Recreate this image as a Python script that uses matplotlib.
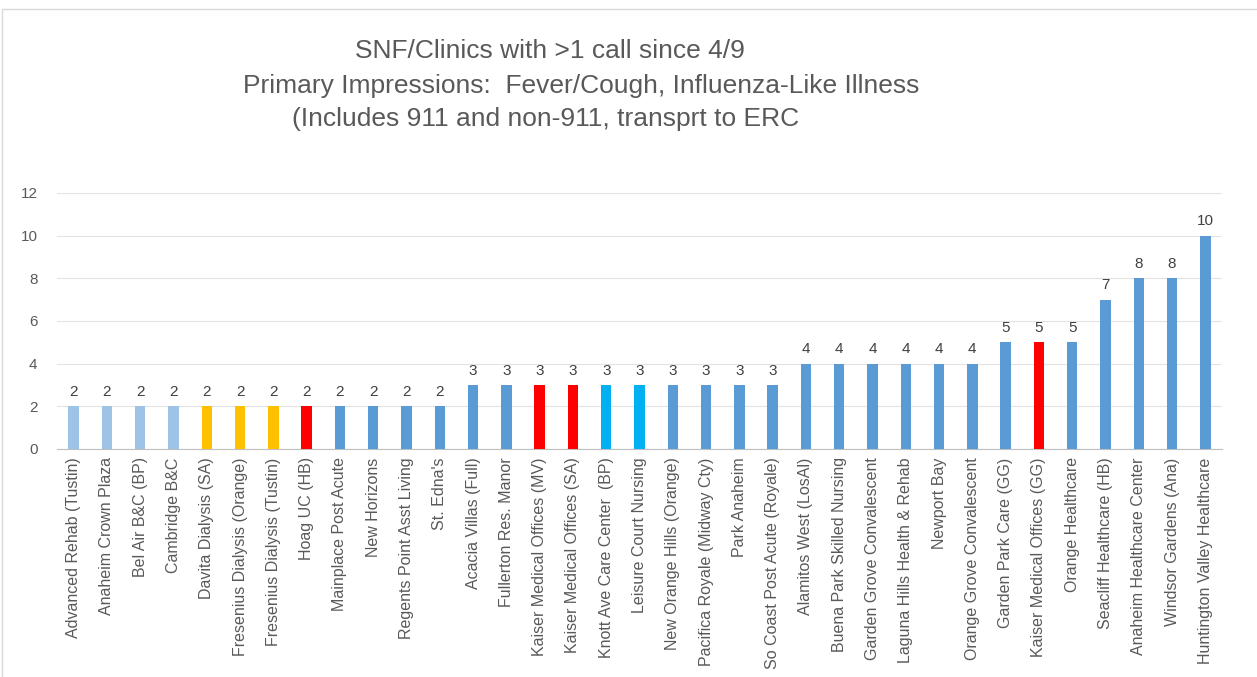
import matplotlib.pyplot as plt
from matplotlib.patches import Rectangle

facilities = [
    "Advanced Rehab (Tustin)", "Anaheim Crown Plaza", "Bel Air B&C (BP)", "Cambridge B&C",
    "Davita Dialysis (SA)", "Fresenius Dialysis (Orange)", "Fresenius Dialysis (Tustin)",
    "Hoag UC (HB)", "Mainplace Post Acute", "New Horizons", "Regents Point Asst Living",
    "St. Edna's", "Acacia Villas (Full)", "Fullerton Res. Manor", "Kaiser Medical Offices (MV)",
    "Kaiser Medical Offices (SA)", "Knott Ave Care Center  (BP)", "Leisure Court Nursing",
    "New Orange Hills (Orange)", "Pacifica Royale (Midway Cty)", "Park Anaheim",
    "So Coast Post Acute (Royale)", "Alamitos West (LosAl)", "Buena Park Skilled Nursing",
    "Garden Grove Convalescent", "Laguna Hills Health & Rehab", "Newport Bay",
    "Orange Grove Convalescent", "Garden Park Care (GG)", "Kaiser Medical Offices (GG)",
    "Orange Healthcare", "Seacliff Healthcare (HB)", "Anaheim Healthcare Center",
    "Windsor Gardens (Ana)", "Huntington Valley Healthcare",
]
calls = [2, 2, 2, 2, 2, 2, 2, 2, 2, 2, 2, 2,
         3, 3, 3, 3, 3, 3, 3, 3, 3, 3,
         4, 4, 4, 4, 4, 4,
         5, 5, 5, 7, 8, 8, 10]
groups = ["light"] * 4 + ["orange"] * 3 + ["red"] + ["blue"] * 6 + ["red"] * 2 + ["cyan"] * 2 \
    + ["blue"] * 11 + ["red"] + ["blue"] * 5

palette = {"light": "#9DC3E6", "orange": "#FFC000", "red": "#FF0000",
           "blue": "#5B9BD5", "cyan": "#00B0F0"}

title_lines = ["SNF/Clinics with >1 call since 4/9",
               "Primary Impressions:  Fever/Cough, Influenza-Like Illness",
               "(Includes 911 and non-911, transprt to ERC"]

plt.rcParams['font.family'] = ['Liberation Sans Narrow', 'Liberation Sans', 'DejaVu Sans']

fig = plt.figure(figsize=(12.57, 6.77), dpi=100)
W, H = 1257, 677
ax = fig.add_axes([57 / W, 1 - 449 / H, (1222 - 57) / W, (449 - 193) / H])

x = list(range(len(facilities)))
bars = ax.bar(x, calls, width=0.31, color=[palette[g] for g in groups], zorder=3)
for b, v in zip(bars, calls):
    ax.text(b.get_x() + b.get_width() / 2, v + 0.35, str(v), ha='center', va='bottom',
            fontsize=11, color='#404040')

ax.set_xlim(-0.5, len(facilities) - 0.5)
ax.set_ylim(0, 12)
ax.set_yticks(range(0, 13, 2))
ax.yaxis.grid(True, color='#E3E3E3', linewidth=0.8, zorder=0)
ax.set_xticks(x)
ax.set_xticklabels(facilities, rotation=90, fontsize=11.5, color='#595959')
ax.tick_params(axis='y', labelsize=11, labelcolor='#595959', length=0, pad=14)
ax.tick_params(axis='x', length=0, pad=6)
for s in ['top', 'right', 'left']:
    ax.spines[s].set_visible(False)
ax.spines['bottom'].set_color('#BFBFBF')

for line, cx, cy in zip(title_lines, [550, 581, 546], [51, 86, 119]):
    fig.text(cx / W, 1 - cy / H, line, ha='center', va='center', fontsize=19,
             color='#595959')

# chart frame
fig.patches.append(Rectangle((2 / W, -0.01), 1.2, 1 - 9 / H + 0.01, transform=fig.transFigure,
                             fill=False, edgecolor='#D9D9D9', linewidth=1))

fig.savefig('out.png', dpi=100)
